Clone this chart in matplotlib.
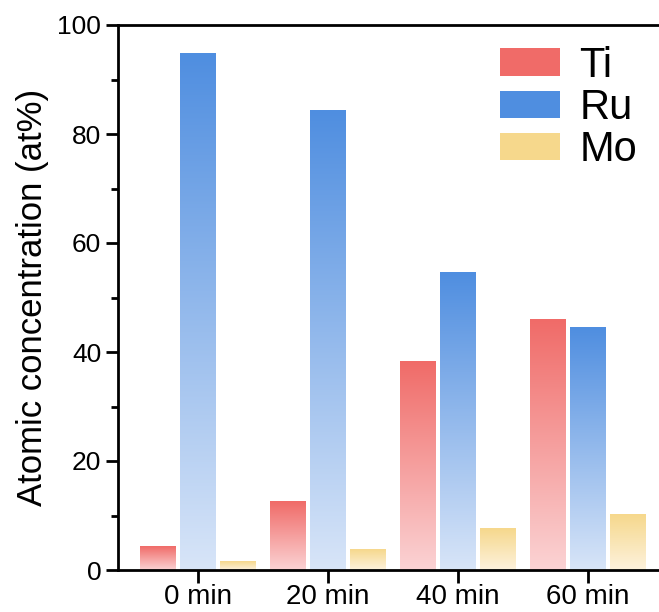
import numpy as np
import matplotlib
matplotlib.use("Agg")
import matplotlib.pyplot as plt
from matplotlib.colors import LinearSegmentedColormap
from matplotlib.patches import Patch

plt.rcParams['font.family'] = ['Liberation Sans', 'DejaVu Sans']

categories = ["0 min", "20 min", "40 min", "60 min"]
series = ["Ti", "Ru", "Mo"]
ti = [4.3, 12.5, 38.3, 46.0]
ru = [94.7, 84.4, 54.5, 44.5]
mo = [1.5, 3.7, 7.6, 10.1]
top_colors = ["#F06B68", "#4F8EE0", "#F6D88C"]
bottom_colors = ["#FBD3D4", "#D8E5F8", "#FDF2DD"]

fig = plt.figure(figsize=(6.59, 6.12), dpi=100)
ax = fig.add_axes([118/659, 1 - 570/612, 1 - 118/659, 545/612])

x = np.arange(len(categories))
width = 0.277
offset = 0.308
grad = np.linspace(1, 0, 256).reshape(-1, 1)

for i, vals in enumerate([ti, ru, mo]):
    cmap = LinearSegmentedColormap.from_list(series[i], [bottom_colors[i], top_colors[i]])
    xs = x + (i - 1) * offset
    bars = ax.bar(xs, vals, width=width, color="none", edgecolor="none")
    for b in bars:
        x0 = b.get_x()
        h = b.get_height()
        ax.imshow(grad, cmap=cmap, extent=[x0, x0 + width, 0, h], aspect="auto",
                  origin="upper", interpolation="bicubic", zorder=2)

ax.set_xlim(-0.615, 3.55)
ax.set_ylim(0, 100)
ax.set_xticks(x)
ax.set_xticklabels(categories)
ax.set_yticks([0, 20, 40, 60, 80, 100])
ax.set_yticks([10, 30, 50, 70, 90], minor=True)
ax.tick_params(axis='both', which='major', width=2, length=9, direction='out')
ax.tick_params(axis='x', labelsize=20, pad=1)
ax.tick_params(axis='y', labelsize=19, pad=3)
ax.tick_params(axis='y', which='minor', width=2, length=5, direction='out')
for s in ['left', 'bottom', 'top']:
    ax.spines[s].set_linewidth(2)
ax.spines['right'].set_visible(False)
ax.set_ylabel("Atomic concentration (at%)", fontsize=25, labelpad=6)

handles = [Patch(facecolor=top_colors[i], edgecolor='none') for i in range(3)]
ax.legend(handles, series, loc='upper left', bbox_to_anchor=(500/659, 1 - 46/612),
          bbox_transform=fig.transFigure,
          fontsize=30, frameon=False, handlelength=1.45, handleheight=0.65,
          labelspacing=0.05, handletextpad=0.45, borderaxespad=0, borderpad=0)

fig.savefig("out.png", dpi=100)
